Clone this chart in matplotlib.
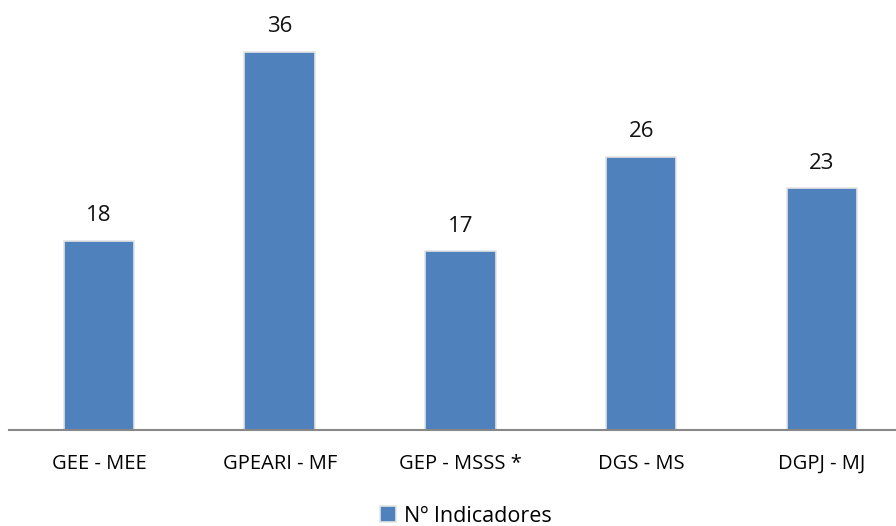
import matplotlib.pyplot as plt

categories = ["GEE - MEE", "GPEARI - MF", "GEP - MSSS *", "DGS - MS", "DGPJ - MJ"]
values = [18, 36, 17, 26, 23]
series_name = "Nº Indicadores"

plt.rcParams['font.family'] = ['Open Sans', 'DejaVu Sans']

fig = plt.figure(figsize=(8.96, 5.26), dpi=100)
ax = fig.add_axes([8.6 / 896, 96 / 526, 903.75 / 896, 430 / 526])

x = range(len(categories))
bars = ax.bar(x, values, width=0.39, color="#4F81BD", edgecolor="#e4e4e4",
              linewidth=1.2, label=series_name, zorder=2)
for xi, v in zip(x, values):
    ax.text(xi, v + 1.4, str(v), ha="center", va="bottom", fontsize=16, color="#111111")

ax.set_xlim(-0.5, len(categories) - 0.5)
ax.set_ylim(0, 36 * 430 / 378)
ax.set_xticks(list(x))
ax.set_xticklabels(categories, fontsize=14.5)
ax.tick_params(axis="x", length=0, pad=17)
ax.set_yticks([])
for s in ["top", "right", "left"]:
    ax.spines[s].set_visible(False)
ax.spines["bottom"].set_color("#888888")
ax.spines["bottom"].set_linewidth(1.5)

fig.legend(handles=[bars], labels=[series_name], loc="center",
           bbox_to_anchor=(466 / 896, 1 - 516 / 526), frameon=False,
           fontsize=15.5, handlelength=0.75, handleheight=0.75, handletextpad=0.35,
           borderpad=0)

fig.savefig("out.png", dpi=100)
